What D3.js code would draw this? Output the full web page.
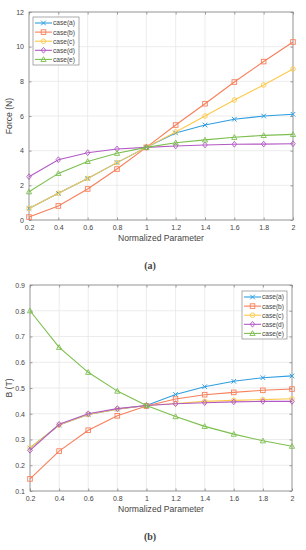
<!DOCTYPE html>
<html lang="en">
  <head>
    <meta charset="utf-8">
    <title>Force and B vs normalized parameter</title>
    <script src="https://d3js.org/d3.v7.min.js"></script>
    <style>
      body { margin: 0; background: #fff; }
      text { font-family: "Liberation Sans", Arial, sans-serif; fill: #444; }
    </style>
  </head>
  <body>
    <div id="chart"></div>
    <script type="text/javascript">
      // shared x values
      var params = [0.2, 0.4, 0.6, 0.8, 1.0, 1.2, 1.4, 1.6, 1.8, 2.0];
      var caseNames = ["case(a)", "case(b)", "case(c)", "case(d)", "case(e)"];

      // panel (a): force in N
      var forceA = [0.67, 1.54, 2.40, 3.31, 4.19, 5.02, 5.48, 5.81, 6.00, 6.10];
      var forceB = [0.17, 0.81, 1.79, 2.94, 4.19, 5.48, 6.71, 7.96, 9.14, 10.27];
      var forceC = [0.67, 1.54, 2.40, 3.31, 4.19, 5.08, 6.00, 6.92, 7.79, 8.71];
      var forceD = [2.50, 3.48, 3.88, 4.10, 4.19, 4.27, 4.33, 4.37, 4.38, 4.40];
      var forceE = [1.63, 2.69, 3.38, 3.85, 4.19, 4.46, 4.62, 4.77, 4.88, 4.94];

      // panel (b): B in T
      var bA = [0.267, 0.356, 0.397, 0.418, 0.432, 0.475, 0.505, 0.526, 0.540, 0.547];
      var bB = [0.147, 0.255, 0.336, 0.392, 0.430, 0.457, 0.474, 0.483, 0.491, 0.496];
      var bC = [0.267, 0.356, 0.397, 0.418, 0.432, 0.440, 0.448, 0.452, 0.455, 0.458];
      var bD = [0.258, 0.359, 0.400, 0.420, 0.432, 0.439, 0.443, 0.446, 0.448, 0.448];
      var bE = [0.800, 0.658, 0.561, 0.488, 0.432, 0.389, 0.351, 0.321, 0.295, 0.274];

      var xTicks = [0.2, 0.4, 0.6, 0.8, 1, 1.2, 1.4, 1.6, 1.8, 2];
      var forceTicks = [0, 2, 4, 6, 8, 10, 12];
      var bTicks = [0.1, 0.2, 0.3, 0.4, 0.5, 0.6, 0.7, 0.8, 0.9];

      var colors = ["#2f9ee0", "#f77f5a", "#fdc94b", "#b25ac4", "#7cbf4e"];
      var markers = ["x", "square", "circle", "diamond", "triangle"];

      var svg = d3.select("#chart").append("svg")
        .attr("width", 306)
        .attr("height", 550);

      // draw one marker of a given kind at (0,0) inside g
      var drawMarker = function(g, kind, color) {
        var r = 2.3;
        if (kind == "x") {
          g.append("path").attr("d", `M${-r},${-r}L${r},${r}M${-r},${r}L${r},${-r}`)
            .attr("stroke", color).attr("stroke-width", 1).attr("fill", "none");
        } else if (kind == "square") {
          g.append("rect").attr("x", -r).attr("y", -r).attr("width", 2 * r).attr("height", 2 * r)
            .attr("stroke", color).attr("stroke-width", 0.9).attr("fill", "none");
        } else if (kind == "circle") {
          g.append("circle").attr("r", r)
            .attr("stroke", color).attr("stroke-width", 0.9).attr("fill", "none");
        } else if (kind == "diamond") {
          g.append("path").attr("d", `M0,${-r - 0.6}L${r},0L0,${r + 0.6}L${-r},0Z`)
            .attr("stroke", color).attr("stroke-width", 0.9).attr("fill", "none");
        } else {
          g.append("path").attr("d", `M0,${-r - 0.4}L${r + 0.3},${r - 0.2}L${-r - 0.3},${r - 0.2}Z`)
            .attr("stroke", color).attr("stroke-width", 0.9).attr("fill", "none");
        }
      }

      var drawPanel = function(cfg) {
        var xScale = d3.scaleLinear().domain([0.2, 2]).range([cfg.left, cfg.right]);
        var yScale = d3.scaleLinear().domain(cfg.yDomain).range([cfg.bottom, cfg.top]);
        var g = svg.append("g");

        // grid
        g.selectAll(".vgrid").data(xTicks).enter().append("line")
          .attr("x1", xScale).attr("x2", xScale)
          .attr("y1", cfg.top).attr("y2", cfg.bottom)
          .attr("stroke", "#e4e4e4").attr("stroke-width", 0.7);
        g.selectAll(".hgrid").data(cfg.yTicks).enter().append("line")
          .attr("y1", yScale).attr("y2", yScale)
          .attr("x1", cfg.left).attr("x2", cfg.right)
          .attr("stroke", "#e4e4e4").attr("stroke-width", 0.7);

        // axes (ticks inside, box on)
        var fmt = cfg.fmt;
        g.append("g").attr("transform", `translate(0,${cfg.bottom})`)
          .call(d3.axisBottom(xScale).tickValues(xTicks).tickSizeInner(-2.5).tickSizeOuter(0)
            .tickPadding(5).tickFormat(d3.format("")))
          .call(a => a.select(".domain").remove());
        g.append("g").attr("transform", `translate(0,${cfg.top})`)
          .call(d3.axisTop(xScale).tickValues(xTicks).tickSizeInner(-2.5).tickSizeOuter(0).tickFormat(""))
          .call(a => a.select(".domain").remove());
        g.append("g").attr("transform", `translate(${cfg.left},0)`)
          .call(d3.axisLeft(yScale).tickValues(cfg.yTicks).tickSizeInner(-2.5).tickSizeOuter(0)
            .tickPadding(5).tickFormat(fmt))
          .call(a => a.select(".domain").remove());
        g.append("g").attr("transform", `translate(${cfg.right},0)`)
          .call(d3.axisRight(yScale).tickValues(cfg.yTicks).tickSizeInner(-2.5).tickSizeOuter(0).tickFormat(""))
          .call(a => a.select(".domain").remove());
        g.selectAll(".tick line").attr("stroke", "#777").attr("stroke-width", 0.7);
        g.selectAll(".tick text").style("font-size", "7px").attr("fill", "#444")
          .style("font-family", "Liberation Sans, Arial, sans-serif");

        g.append("rect")
          .attr("x", cfg.left).attr("y", cfg.top)
          .attr("width", cfg.right - cfg.left).attr("height", cfg.bottom - cfg.top)
          .attr("fill", "none").attr("stroke", "#888").attr("stroke-width", 0.8);

        // series
        var line = d3.line().x((d, i) => xScale(params[i])).y(d => yScale(d));
        cfg.series.forEach(function(vals, k) {
          g.append("path").datum(vals)
            .attr("d", line)
            .attr("fill", "none")
            .attr("stroke", colors[k])
            .attr("stroke-width", 1.1);
          vals.forEach(function(v, i) {
            var m = g.append("g").attr("transform", `translate(${xScale(params[i])},${yScale(v)})`);
            drawMarker(m, markers[k], colors[k]);
          });
        });

        // legend
        var lg = g.append("g").attr("transform", `translate(${cfg.legX},${cfg.legY})`);
        lg.append("rect").attr("x", 0).attr("y", 0)
          .attr("width", cfg.legW).attr("height", 48)
          .attr("fill", "#fff").attr("stroke", "#888").attr("stroke-width", 0.7);
        caseNames.forEach(function(name, k) {
          var yy = 6 + k * 9.1;
          lg.append("line").attr("x1", 2).attr("x2", 19).attr("y1", yy).attr("y2", yy)
            .attr("stroke", colors[k]).attr("stroke-width", 1.1);
          var m = lg.append("g").attr("transform", `translate(10.5,${yy})`);
          drawMarker(m, markers[k], colors[k]);
          lg.append("text").attr("x", 20).attr("y", yy + 2.4)
            .style("font-size", "6.6px").text(name);
        });

        // labels
        svg.append("text")
          .attr("x", (cfg.left + cfg.right) / 2)
          .attr("y", cfg.bottom + 21)
          .attr("text-anchor", "middle")
          .style("font-size", "8.6px")
          .text("Normalized Parameter");
        svg.append("text")
          .attr("transform", `translate(12,${(cfg.top + cfg.bottom) / 2})rotate(-90)`)
          .attr("text-anchor", "middle")
          .style("font-size", "8.6px")
          .text(cfg.yLabel);
        svg.append("text")
          .attr("x", 150)
          .attr("y", cfg.bottom + 49)
          .attr("text-anchor", "middle")
          .style("font-family", "Liberation Serif, Times New Roman, serif")
          .style("font-weight", "bold")
          .style("font-size", "10px")
          .attr("fill", "#222")
          .text(cfg.tag);
      }

      drawPanel({
        left: 29, right: 293, top: 12, bottom: 220,
        yDomain: [0, 12], yTicks: forceTicks, fmt: d3.format("d"),
        series: [forceA, forceB, forceC, forceD, forceE],
        legX: 33, legY: 17, legW: 46,
        yLabel: "Force (N)", tag: "(a)"
      });

      drawPanel({
        left: 30, right: 292, top: 285, bottom: 491,
        yDomain: [0.1, 0.9], yTicks: bTicks, fmt: d3.format(".1f"),
        series: [bA, bB, bC, bD, bE],
        legX: 242, legY: 291, legW: 45,
        yLabel: "B (T)", tag: "(b)"
      });
    </script>
  </body>
</html>
